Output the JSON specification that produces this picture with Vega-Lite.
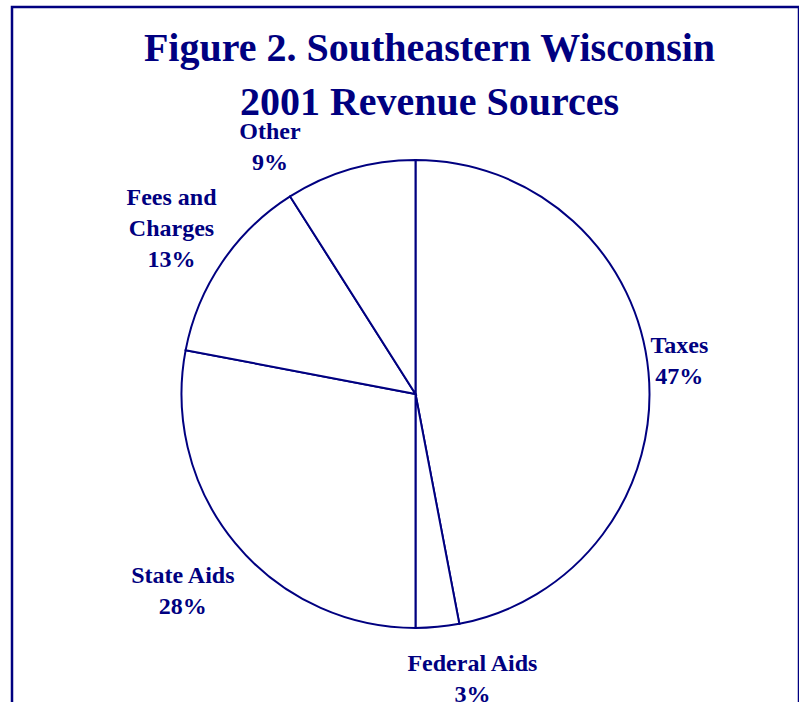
{
  "$schema": "https://vega.github.io/schema/vega-lite/v6.json",
  "width": 787,
  "height": 774,
  "autosize": "none",
  "padding": {"left": 12, "top": 7, "right": 0, "bottom": 0},
  "background": "white",
  "view": {"stroke": "#000080", "strokeWidth": 2.5},
  "title": {
    "text": ["Figure 2.  Southeastern Wisconsin", "2001 Revenue Sources"],
    "font": "Liberation Serif",
    "fontSize": 40,
    "fontWeight": "bold",
    "color": "#000080",
    "lineHeight": 54,
    "anchor": "middle",
    "baseline": "top",
    "offset": -116,
    "dx": 24
  },
  "data": {
    "values": [
      {"source": "Taxes", "share": 47, "rank": 1, "label": "Taxes\n47%"},
      {"source": "Federal Aids", "share": 3, "rank": 2, "label": "Federal Aids\n3%"},
      {"source": "State Aids", "share": 28, "rank": 3, "label": "State Aids\n28%"},
      {"source": "Fees and Charges", "share": 13, "rank": 4, "label": "Fees and\nCharges\n13%"},
      {"source": "Other", "share": 9, "rank": 5, "label": "Other\n9%"}
    ]
  },
  "encoding": {
    "theta": {"field": "share", "type": "quantitative", "stack": true},
    "order": {"field": "rank", "type": "quantitative"}
  },
  "layer": [
    {
      "mark": {"type": "arc", "outerRadius": 234, "fill": "white", "stroke": "#000080", "strokeWidth": 2, "xOffset": 10}
    },
    {
      "mark": {"type": "text", "radius": 265, "xOffset": 10, "dy": -23, "font": "Liberation Serif", "fontSize": 24, "fontWeight": "bold", "fill": "#000080", "align": "center", "baseline": "middle", "lineBreak": "\n", "lineHeight": 31},
      "encoding": {"text": {"condition": {"test": "datum.source == 'Taxes'", "field": "label"}, "value": ""}}
    },
    {
      "mark": {"type": "text", "radius": 286, "xOffset": 10, "dx": 30, "dy": -15, "font": "Liberation Serif", "fontSize": 24, "fontWeight": "bold", "fill": "#000080", "align": "center", "baseline": "middle", "lineBreak": "\n", "lineHeight": 31},
      "encoding": {"text": {"condition": {"test": "datum.source == 'Federal Aids'", "field": "label"}, "value": ""}}
    },
    {
      "mark": {"type": "text", "radius": 302, "xOffset": 10, "dy": -11, "font": "Liberation Serif", "fontSize": 24, "fontWeight": "bold", "fill": "#000080", "align": "center", "baseline": "middle", "lineBreak": "\n", "lineHeight": 31},
      "encoding": {"text": {"condition": {"test": "datum.source == 'State Aids'", "field": "label"}, "value": ""}}
    },
    {
      "mark": {"type": "text", "radius": 295, "xOffset": 10, "dy": -30, "font": "Liberation Serif", "fontSize": 24, "fontWeight": "bold", "fill": "#000080", "align": "center", "baseline": "middle", "lineBreak": "\n", "lineHeight": 31},
      "encoding": {"text": {"condition": {"test": "datum.source == 'Fees and Charges'", "field": "label"}, "value": ""}}
    },
    {
      "mark": {"type": "text", "radius": 260, "xOffset": 10, "dx": -73, "dy": -12, "font": "Liberation Serif", "fontSize": 24, "fontWeight": "bold", "fill": "#000080", "align": "center", "baseline": "middle", "lineBreak": "\n", "lineHeight": 31},
      "encoding": {"text": {"condition": {"test": "datum.source == 'Other'", "field": "label"}, "value": ""}}
    }
  ]
}
